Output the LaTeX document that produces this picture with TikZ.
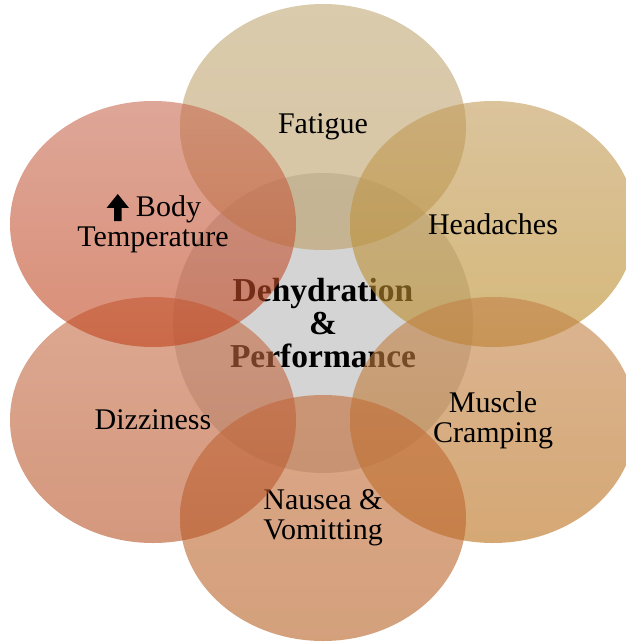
\documentclass[tikz,border=0pt]{standalone}
\usepackage{fontspec}
\setmainfont{Liberation Serif}
\usetikzlibrary{shapes.geometric}

\definecolor{hubgray}{RGB}{212,212,212}
\definecolor{fatiguetop}{RGB}{193,168,117}
\definecolor{fatiguebot}{RGB}{187,158,102}
\definecolor{headtop}{RGB}{195,155,90}
\definecolor{headbot}{RGB}{185,137,33}
\definecolor{muscletop}{RGB}{195,130,73}
\definecolor{musclebot}{RGB}{185,110,23}
\definecolor{nauseatop}{RGB}{195,108,55}
\definecolor{nauseabot}{RGB}{183,97,37}
\definecolor{dizzytop}{RGB}{198,110,72}
\definecolor{dizzybot}{RGB}{183,83,38}
\definecolor{bodytop}{RGB}{200,107,83}
\definecolor{bodybot}{RGB}{192,67,27}

\begin{document}
\begin{tikzpicture}[x=1pt, y=-1pt,
  petal/.style={ellipse, minimum width=286pt, minimum height=246pt, inner sep=0pt,
    fill opacity=0.6, text opacity=1, align=center, font=\fontsize{30}{30}\selectfont}]
\useasboundingbox (0,0) rectangle (625,644);
\node[circle, fill=hubgray, minimum size=300pt, inner sep=0pt, align=center, font=\bfseries\fontsize{33.5}{33}\selectfont] (hub) at (323,323) {Dehydration\\\&\\Performance};
\node[petal, top color=fatiguetop, bottom color=fatiguebot] (fatigue) at (323,127) {Fatigue};
\node[petal, top color=headtop, bottom color=headbot] (head) at (493,224) {Headaches};
\node[petal, top color=muscletop, bottom color=musclebot] (muscle) at (493,420) {Muscle\\Cramping};
\node[petal, top color=nauseatop, bottom color=nauseabot] (nausea) at (323,518) {Nausea \&\\Vomitting};
\node[petal, top color=dizzytop, bottom color=dizzybot] (dizzy) at (153,420) {Dizziness};
\node[petal, top color=bodytop, bottom color=bodybot] (body) at (153,224) {\hspace*{31pt}Body\\Temperature};
% up arrow before "Body"
\fill[black, shift={(body.center)}] (-39,-3) -- (-39,-16) -- (-46.5,-16) -- (-35.25,-30)
  -- (-24,-16) -- (-31.5,-16) -- (-31.5,-3) -- cycle;
\end{tikzpicture}
\end{document}
